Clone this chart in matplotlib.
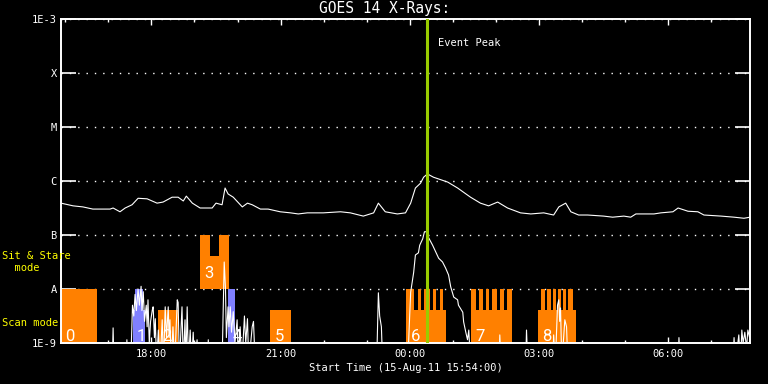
import datetime
import matplotlib
matplotlib.use('Agg')
import matplotlib.pyplot as plt
import matplotlib.dates as mdates
import matplotlib.ticker as mticker

plt.rcParams['font.family'] = ['DejaVu Sans Mono']

start_time = datetime.datetime(2011, 8, 15, 15, 54, 0)
span_hours = 16.0
peak_hours = 8.49

# GOES long channel: hours after start, log10 flux (W/m^2)
long_hours = [0.00, 0.28, 0.51, 0.74, 1.14, 1.21, 1.37, 1.49, 1.65, 1.79, 2.00, 2.23, 2.37, 2.58,
              2.72, 2.84, 2.91, 3.05, 3.23, 3.51, 3.60, 3.74, 3.81, 3.88, 4.00, 4.21, 4.33, 4.44,
              4.63, 4.81, 5.09, 5.33, 5.51, 5.72, 6.09, 6.49, 6.72, 7.02, 7.26, 7.37, 7.53, 7.81,
              8.00, 8.12, 8.23, 8.35, 8.42, 8.51, 8.65, 8.98, 9.21, 9.51, 9.74, 9.93, 10.14, 10.37,
              10.67, 10.91, 11.21, 11.44, 11.56, 11.72, 11.84, 12.02, 12.23, 12.60, 12.81, 13.07,
              13.23, 13.35, 13.77, 13.93, 14.21, 14.33, 14.56, 14.79, 14.93, 15.33, 15.63, 15.86, 16.00]
long_log = [-6.41, -6.46, -6.48, -6.52, -6.52, -6.50, -6.57, -6.50, -6.44, -6.32, -6.33, -6.41, -6.39, -6.30,
            -6.30, -6.37, -6.28, -6.41, -6.50, -6.50, -6.41, -6.44, -6.13, -6.24, -6.30, -6.48, -6.41, -6.44,
            -6.52, -6.52, -6.57, -6.59, -6.61, -6.59, -6.59, -6.57, -6.59, -6.65, -6.59, -6.41, -6.57, -6.61,
            -6.59, -6.41, -6.13, -6.04, -5.93, -5.87, -5.93, -6.02, -6.13, -6.30, -6.41, -6.46, -6.39, -6.50,
            -6.59, -6.61, -6.59, -6.63, -6.48, -6.41, -6.57, -6.63, -6.63, -6.65, -6.67, -6.65,
            -6.67, -6.61, -6.61, -6.59, -6.57, -6.50, -6.56, -6.57, -6.63, -6.65, -6.67, -6.69, -6.67]

# GOES short channel: (hours after start, log10 flux); -9.4 is below the plot floor
short_points = [
    (0.00, -9.4), (1.19, -9.4), (1.21, -8.72), (1.23, -9.4),
    (1.51, -9.4), (1.53, -8.94), (1.55, -9.4),
    (1.62, -9.4), (1.66, -8.3), (1.69, -8.5), (1.72, -8.1), (1.75, -8.4), (1.79, -8.0), (1.82, -8.3),
    (1.86, -7.95), (1.88, -8.4), (1.91, -8.05), (1.94, -8.6), (1.98, -8.3), (2.00, -8.7), (2.02, -8.2),
    (2.05, -9.0), (2.08, -8.6), (2.12, -8.39), (2.14, -8.33), (2.17, -8.9), (2.19, -8.55), (2.22, -9.4),
    (2.26, -8.76), (2.30, -9.4), (2.35, -8.57), (2.38, -9.4), (2.42, -8.33), (2.45, -8.9), (2.49, -8.33),
    (2.51, -8.9), (2.53, -8.57), (2.56, -9.4), (2.60, -8.7), (2.64, -9.4), (2.70, -8.2), (2.72, -8.25),
    (2.75, -9.4), (2.81, -8.33), (2.84, -9.4), (2.88, -8.57), (2.90, -9.4), (2.93, -8.33), (2.96, -9.4),
    (3.00, -8.76), (3.03, -9.4), (3.07, -8.8), (3.10, -9.4), (3.16, -8.94), (3.18, -9.4),
    (3.40, -9.4), (3.42, -8.94), (3.44, -9.4),
    (3.74, -9.4), (3.77, -8.3), (3.79, -7.5), (3.82, -8.0), (3.84, -8.9), (3.88, -8.33), (3.90, -8.7),
    (3.93, -8.33), (3.96, -8.8), (4.00, -8.42), (4.04, -9.0), (4.09, -8.57), (4.12, -9.4), (4.16, -8.7),
    (4.20, -9.4), (4.26, -8.5), (4.29, -9.0), (4.33, -8.55), (4.36, -9.4), (4.44, -8.7), (4.47, -8.6),
    (4.51, -9.4),
    (7.33, -9.4), (7.37, -8.07), (7.40, -8.5), (7.44, -8.7), (7.47, -9.4),
    (8.05, -9.4), (8.12, -8.06), (8.19, -7.69), (8.23, -7.37), (8.30, -7.33), (8.33, -7.19), (8.40, -7.07),
    (8.44, -6.94), (8.51, -6.94), (8.53, -7.04), (8.63, -7.19), (8.70, -7.31), (8.77, -7.43), (8.86, -7.50),
    (8.93, -7.61), (9.00, -7.74), (9.05, -7.96), (9.12, -8.15), (9.21, -8.20), (9.23, -8.30), (9.33, -8.43),
    (9.35, -8.61), (9.40, -8.80), (9.44, -8.94), (9.47, -8.76), (9.51, -9.4),
    (10.17, -9.4), (10.19, -8.85), (10.22, -9.4),
    (10.79, -9.4), (10.81, -8.76), (10.84, -9.4),
    (11.42, -9.4), (11.44, -8.85), (11.48, -9.4), (11.53, -8.3), (11.56, -8.2), (11.58, -8.6),
    (11.60, -8.35), (11.63, -9.4), (11.70, -8.57), (11.74, -8.7), (11.77, -9.4),
    (14.33, -9.4), (14.35, -8.9), (14.38, -9.4),
    (15.60, -9.4), (15.63, -8.9), (15.66, -9.4), (15.74, -8.85), (15.78, -9.4), (15.81, -8.76),
    (15.84, -9.0), (15.88, -8.8), (15.92, -9.1), (15.95, -8.76), (15.99, -8.9), (16.00, -8.8),
]

# flux classes on the y axis
flux_ticks = [1e-9, 1e-8, 1e-7, 1e-6, 1e-5, 1e-4, 1e-3]
flux_labels = ['1E-9', 'A', 'B', 'C', 'M', 'X', '1E-3']

# observation rasters
raster_names = ['0', '1', '2', '3', '4', '5', '6', '7', '8']
raster_kind = ['orange', 'blue', 'orange', 'orange', 'blue', 'orange', 'orange', 'orange', 'orange']
raster_floor = [-9, -9, -9, -8, -9, -9, -9, -9, -9]
raster_label_log = [-8.96, -8.96, -8.96, -7.80, -8.96, -8.96, -8.96, -8.96, -8.96]
# exposures: (raster index, start hour, end hour, top log10)
exposures = [
    (0, 0.00, 0.84, -8.0),
    (1, 1.67, 1.95, -8.39), (1, 1.72, 1.91, -8.0),
    (2, 2.26, 2.72, -8.39),
    (3, 3.23, 3.47, -7.0), (3, 3.47, 3.67, -7.39), (3, 3.67, 3.91, -7.0),
    (4, 3.88, 4.05, -8.0),
    (5, 4.86, 5.33, -8.39),
    (6, 8.02, 8.95, -8.39), (6, 8.02, 8.19, -8.0), (6, 8.28, 8.37, -8.0), (6, 8.44, 8.56, -8.0),
    (6, 8.65, 8.70, -8.0), (6, 8.79, 8.86, -8.0),
    (7, 9.53, 10.47, -8.39), (7, 9.53, 9.63, -8.0), (7, 9.70, 9.79, -8.0), (7, 9.86, 9.95, -8.0),
    (7, 10.02, 10.12, -8.0), (7, 10.19, 10.28, -8.0), (7, 10.35, 10.47, -8.0),
    (8, 11.07, 11.95, -8.39), (8, 11.14, 11.23, -8.0), (8, 11.28, 11.37, -8.0), (8, 11.42, 11.49, -8.0),
    (8, 11.53, 11.60, -8.0), (8, 11.65, 11.72, -8.0), (8, 11.77, 11.88, -8.0),
]

kind_colors = {'orange': '#ff8000', 'blue': '#8080ff'}


def to_num(h):
    return mdates.date2num(start_time + datetime.timedelta(hours=h))


fig = plt.figure(figsize=(7.68, 3.84), dpi=100, facecolor='black')
ax = fig.add_axes([61 / 768, 1 - 343 / 384, 689 / 768, 324 / 384])
ax.set_facecolor('black')
ax.set_yscale('log')
ax.set_ylim(1e-9, 1e-3)
ax.set_xlim(to_num(0), to_num(span_hours))
ax.xaxis_date()

# rasters
for idx, t0, t1, top in exposures:
    left = to_num(t0)
    bottom = 10 ** raster_floor[idx]
    ax.bar(left, 10 ** top - bottom, width=to_num(t1) - left, bottom=bottom, align='edge',
           color=kind_colors[raster_kind[idx]], linewidth=0, zorder=1)

for idx, name in enumerate(raster_names):
    t_first = min(e[1] for e in exposures if e[0] == idx)
    ax.annotate(name, (to_num(t_first), 10 ** raster_label_log[idx]), xytext=(3, 0),
                textcoords='offset points', ha='left', va='baseline', color='white',
                fontsize=12, family=['Roboto', 'DejaVu Sans'], fontweight='normal', zorder=5)

# light curves
ax.plot([to_num(h) for h in long_hours], [10 ** v for v in long_log], color='white', lw=0.8, zorder=3)
ax.plot([to_num(p[0]) for p in short_points], [10 ** p[1] for p in short_points],
        color='white', lw=0.8, zorder=3)

# event peak
ax.axvline(to_num(peak_hours), color='#99cc00', lw=2.2, zorder=4)
ax.annotate('Event Peak', xy=(to_num(peak_hours), 0.926), xycoords=('data', 'axes fraction'),
            xytext=(8, 0), textcoords='offset points', color='white', va='center', fontsize=7.5)

# axes styling
ax.set_yticks(flux_ticks)
ax.set_yticklabels(flux_labels)
ax.yaxis.set_minor_locator(mticker.NullLocator())
ax.tick_params(axis='y', which='major', direction='in', length=10.5, width=1.2, colors='white',
               left=True, right=True, labelsize=7.5, pad=3)
ax.xaxis.set_major_locator(mdates.HourLocator(byhour=range(0, 24, 3)))
ax.xaxis.set_minor_locator(mdates.HourLocator())
ax.xaxis.set_major_formatter(mdates.DateFormatter('%H:%M'))
ax.tick_params(axis='x', which='major', direction='in', length=4.5, width=1, colors='white',
               top=True, bottom=True, labelsize=7.5, pad=4)
ax.tick_params(axis='x', which='minor', direction='in', length=2.5, width=1, colors='white',
               top=True, bottom=True)
ax.yaxis.grid(True, which='major', color='white', linestyle=(0, (1, 5)), lw=1)
ax.set_axisbelow(True)
for sp in ax.spines.values():
    sp.set_color('white')
    sp.set_linewidth(1.4)

ax.set_xlabel('Start Time (15-Aug-11 15:54:00)', color='white', fontsize=7.5, labelpad=3)
fig.text(385 / 768, 1 - 8 / 384, 'GOES 14 X-Rays:', ha='center', va='center', color='white', fontsize=10.5)
fig.text(2 / 768, 1 - 262 / 384, 'Sit & Stare\n  mode', ha='left', va='center', color='yellow',
         fontsize=7.5, linespacing=1.15)
fig.text(2 / 768, 1 - 323 / 384, 'Scan mode', ha='left', va='center', color='yellow', fontsize=7.5)

fig.savefig('out.png', dpi=100, facecolor='black')
